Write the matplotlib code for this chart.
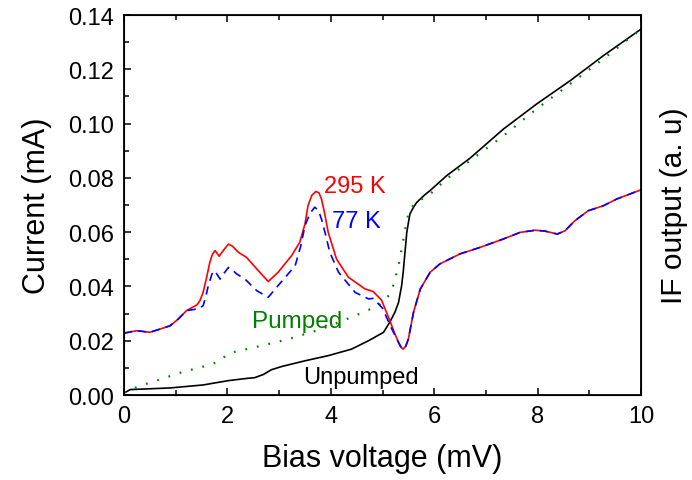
import numpy as np
import matplotlib
matplotlib.use("Agg")
from matplotlib import pyplot as plt
from matplotlib.ticker import MultipleLocator, FormatStrFormatter

plt.rcParams['font.family'] = ['Liberation Sans', 'DejaVu Sans']

# --- IF output, 295 K hot load
v_295 = [0, 0.25, 0.5, 0.7, 0.89, 1.05, 1.21, 1.41, 1.47, 1.53, 1.60, 1.66, 1.71, 1.76,
         1.80, 1.84, 1.93, 2.02, 2.10, 2.21, 2.37, 2.57, 2.79, 2.98, 3.24, 3.40, 3.50,
         3.56, 3.63, 3.71, 3.77, 3.82, 3.88, 3.95, 4.11, 4.34, 4.66, 4.82, 4.98, 5.14,
         5.24, 5.31, 5.36, 5.40, 5.45, 5.50, 5.60, 5.73, 5.92, 6.11, 6.50, 6.89, 7.02,
         7.34, 7.66, 7.95, 8.14, 8.38, 8.53, 8.72, 8.98, 9.27, 9.53, 10.0]
if_295 = [0.0228, 0.0237, 0.0231, 0.0243, 0.0255, 0.0280, 0.0311, 0.0332, 0.0348, 0.0378,
          0.0435, 0.0489, 0.0518, 0.0532, 0.0522, 0.0511, 0.0535, 0.0556, 0.0548, 0.0526,
          0.0507, 0.0464, 0.0418, 0.0452, 0.0513, 0.0563, 0.0630, 0.0698, 0.0735, 0.0750,
          0.0745, 0.0722, 0.0670, 0.0599, 0.0501, 0.0434, 0.0391, 0.0381, 0.0350, 0.0275,
          0.0225, 0.0194, 0.0175, 0.0169, 0.0180, 0.0206, 0.0305, 0.0390, 0.0452, 0.0483,
          0.0520, 0.0544, 0.0553, 0.0575, 0.0599, 0.0607, 0.0604, 0.0593, 0.0605, 0.0642,
          0.0679, 0.0697, 0.0722, 0.0756]

# --- IF output, 77 K cold load
v_77 = [0, 0.25, 0.5, 0.7, 0.89, 1.05, 1.21, 1.35, 1.45, 1.53, 1.58, 1.63, 1.70, 1.74,
        1.79, 1.86, 1.94, 2.02, 2.10, 2.18, 2.34, 2.57, 2.79, 2.98, 3.31, 3.42, 3.50,
        3.60, 3.69, 3.76, 3.82, 3.90, 3.98, 4.15, 4.47, 4.73, 4.82, 5.0, 5.15, 5.24,
        5.31, 5.36, 5.40, 5.45, 5.50, 5.60, 5.73, 5.92, 6.11, 6.50, 6.89, 7.02, 7.34,
        7.66, 7.95, 8.14, 8.38, 8.53, 8.72, 8.98, 9.27, 9.53, 10.0]
if_77 = [0.0228, 0.0237, 0.0231, 0.0243, 0.0255, 0.0280, 0.0311, 0.0315, 0.0318, 0.0329,
         0.0360, 0.0403, 0.0445, 0.0458, 0.0447, 0.0427, 0.0450, 0.0470, 0.0460, 0.0446,
         0.0427, 0.0384, 0.0360, 0.0403, 0.0476, 0.0550, 0.0624, 0.0670, 0.0692, 0.0680,
         0.0648, 0.0590, 0.0526, 0.0452, 0.0378, 0.0354, 0.0356, 0.0320, 0.0255, 0.0220,
         0.0194, 0.0175, 0.0169, 0.0180, 0.0206, 0.0305, 0.0390, 0.0452, 0.0483, 0.0520,
         0.0544, 0.0553, 0.0575, 0.0599, 0.0607, 0.0604, 0.0593, 0.0605, 0.0642, 0.0679,
         0.0697, 0.0722, 0.0756]

# --- pumped I-V
v_pump = [0, 0.31, 0.63, 1.12, 1.60, 1.79, 2.05, 2.37, 2.6, 3.18, 3.82, 4.47, 4.92, 5.14,
          5.22, 5.31, 5.37, 5.44, 5.50, 5.58, 5.66, 5.92, 6.24, 6.69, 7.34, 7.98, 8.63,
          9.27, 10.0]
i_pump = [0.0010, 0.0034, 0.0053, 0.0084, 0.0108, 0.0120, 0.0155, 0.0169, 0.0179, 0.0206,
          0.0243, 0.0292, 0.0329, 0.0370, 0.0410, 0.0476, 0.0538, 0.0612, 0.0667, 0.0695,
          0.0710, 0.0740, 0.0796, 0.0863, 0.0955, 0.1054, 0.1146, 0.1238, 0.1348]

# --- unpumped I-V
v_dc = [0, 0.12, 0.89, 1.53, 2.02, 2.37, 2.53, 2.7, 2.85, 3.05, 3.50, 3.95, 4.40, 4.73,
        5.02, 5.14, 5.24, 5.31, 5.37, 5.40, 5.435, 5.47, 5.53, 5.60, 5.66, 5.73, 5.82,
        5.92, 6.24, 6.69, 7.34, 7.98, 8.63, 9.27, 10.0]
i_dc = [0.0007, 0.0020, 0.0026, 0.0037, 0.0053, 0.0061, 0.0064, 0.0076, 0.0093, 0.0105,
        0.0126, 0.0145, 0.0169, 0.0200, 0.0231, 0.0268, 0.0305, 0.0341, 0.0403, 0.0452,
        0.0526, 0.0600, 0.0667, 0.0692, 0.0709, 0.0722, 0.0738, 0.0753, 0.0808, 0.0872,
        0.0980, 0.1072, 0.1158, 0.1250, 0.1348]

fig = plt.figure(figsize=(6.92, 4.81), dpi=100)
ax = fig.add_axes([0.1792, 0.1767, 0.7471, 0.79])

ax.plot(v_dc, i_dc, color='black', lw=1.2)
ax.plot(v_pump, i_pump, color='green', lw=1.6, linestyle=(0, (0.8, 4.5)))
ax.plot(v_295, if_295, color='red', lw=1.2)
ax.plot(v_77, if_77, color='blue', lw=1.2, linestyle=(0, (5, 3.5)))

ax.text(3.86, 0.0749, '295 K', color='red', fontsize=17, va='baseline')
ax.text(4.02, 0.0620, '77 K', color='blue', fontsize=17, va='baseline')
ax.text(2.48, 0.0249, 'Pumped', color='green', fontsize=17.5, va='baseline')
ax.text(3.46, 0.0044, 'Unpumped', color='black', fontsize=17, va='baseline')

ax.set_xlim(0, 10)
ax.set_ylim(0, 0.14)
ax.xaxis.set_major_locator(MultipleLocator(2))
ax.xaxis.set_minor_locator(MultipleLocator(1))
ax.yaxis.set_major_locator(MultipleLocator(0.02))
ax.yaxis.set_minor_locator(MultipleLocator(0.01))
ax.yaxis.set_major_formatter(FormatStrFormatter('%.2f'))
ax.tick_params(which='both', direction='in', top=True, right=True, labelsize=17, width=1.1)
ax.tick_params(which='major', length=5, pad=7)
ax.tick_params(which='minor', length=3.5)
for s in ax.spines.values():
    s.set_linewidth(1.3)

ax.set_xlabel('Bias voltage (mV)', fontsize=22, labelpad=12)
ax.set_ylabel('Current (mA)', fontsize=22, labelpad=12)

# right hand axis only carries the IF label
ax2 = ax.twinx()
ax2.set_ylim(0, 0.14)
ax2.set_yticks([])
ax2.set_ylabel('IF output (a. u)', fontsize=21.5, labelpad=14)

fig.savefig('out.png', dpi=100)
